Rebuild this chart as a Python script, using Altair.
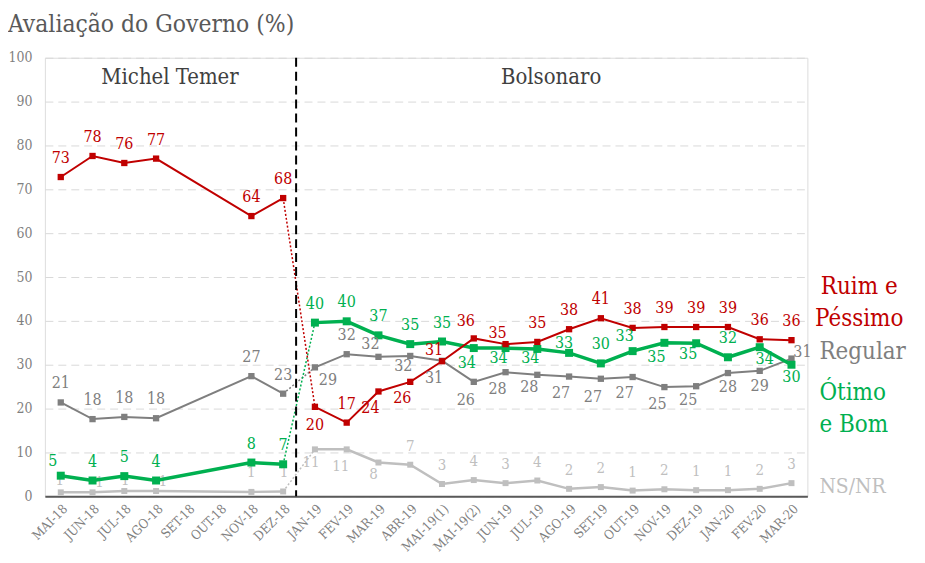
import altair as alt
import pandas as pd

cats = ["MAI-18", "JUN-18", "JUL-18", "AGO-18", "SET-18", "OUT-18", "NOV-18", "DEZ-18",
        "JAN-19", "FEV-19", "MAR-19", "ABR-19", "MAI-19(1)", "MAI-19(2)", "JUN-19", "JUL-19",
        "AGO-19", "SET-19", "OUT-19", "NOV-19", "DEZ-19", "JAN-20", "FEV-20", "MAR-20"]

ruim = [72.8, 77.6, 76.0, 77.0, None, None, 63.9, 68.0,
        20.4, 16.8, 23.9, 26.1, 30.8, 36.0, 34.7, 35.2, 38.1, 40.6, 38.4, 38.6, 38.6, 38.6, 35.8, 35.6]
regular = [21.4, 17.6, 18.1, 17.8, None, None, 27.4, 23.4,
           29.4, 32.4, 31.8, 32.0, 30.9, 26.1, 28.3, 27.7, 27.3, 26.8, 27.2, 24.9, 25.1, 28.1, 28.6, 31.4]
otimo = [4.7, 3.6, 4.6, 3.6, None, None, 7.7, 7.3,
         39.6, 39.9, 36.7, 34.7, 35.3, 33.8, 33.8, 33.6, 32.7, 30.3, 33.1, 35.0, 34.9, 31.7, 34.0, 30.0]
nsnr = [0.9, 0.9, 1.2, 1.2, None, None, 1.0, 1.1,
        10.7, 10.7, 7.7, 7.2, 2.8, 3.7, 3.0, 3.6, 1.7, 2.1, 1.3, 1.6, 1.4, 1.4, 1.7, 3.0]

title_text = "Avaliação do Governo (%)"
gov_names = ["Michel Temer", "Bolsonaro"]

FONT = "DejaVu Serif Condensed, DejaVu Serif"
RED, GRAY, GREEN, LIGHT = "#C00000", "#7F7F7F", "#00B050", "#BFBFBF"

# label placement exceptions (dx, dy) in pixels; default is above the point
DEFAULT_OFF = (0, -19)
off_ruim = {"JAN-19": (0, 18), "MAR-19": (-8, 17), "ABR-19": (-8, 16), "MAI-19(1)": (-8, -11),
            "MAI-19(2)": (-8, -17), "JUN-19": (-8, -11)}
off_regular = {"JAN-19": (13, 13), "MAR-19": (-8, -13), "ABR-19": (-7, 10), "MAI-19(1)": (-8, 17),
               "MAI-19(2)": (-8, 18), "JUN-19": (-8, 17), "JUL-19": (-8, 12), "AGO-19": (-8, 17),
               "SET-19": (-8, 18), "OUT-19": (-8, 16), "NOV-19": (-7, 17), "DEZ-19": (-8, 14),
               "JAN-20": (0, 14), "FEV-20": (0, 15), "MAR-20": (11, -7)}
off_otimo = {"MAI-18": (-8, -15), "MAI-19(2)": (-7, 15), "JUN-19": (-7, 10), "JUL-19": (-7, 9),
             "AGO-19": (-5, -10), "OUT-19": (-8, -15), "NOV-19": (-8, 14), "DEZ-19": (-8, 11),
             "FEV-20": (5, 12), "MAR-20": (0, 12)}
off_nsnr = {"MAI-18": (-1, -12), "JUN-18": (7, -10), "JUL-18": (1, -11), "AGO-18": (7, -10),
            "NOV-18": (0, -20), "DEZ-18": (1, -20),
            "JAN-19": (-4, 13), "FEV-19": (-6, 17), "MAR-19": (-5, 12)}


def frame(values):
    rows = []
    for i, (c, v) in enumerate(zip(cats, values)):
        if v is None:
            continue
        rows.append({"cat": c, "v": v, "period": "Temer" if i < 8 else "Bolsonaro"})
    return pd.DataFrame(rows)


xenc = alt.X("cat:N", title=None,
             scale=alt.Scale(type="point", domain=cats, padding=0.5),
             axis=alt.Axis(labelAngle=315, labelFontSize=13, labelColor=GRAY, ticks=False,
                           domainColor="#595959", domainWidth=2, labelPadding=6, grid=False,
                           labelFont=FONT))
yenc = alt.Y("v:Q", title=None, scale=alt.Scale(domain=[0, 100]),
             axis=alt.Axis(values=list(range(0, 101, 10)), grid=True, gridDash=[8, 5],
                           gridColor="#D9D9D9", gridWidth=1, domain=False, ticks=False,
                           labelPadding=13, labelFontSize=14, labelColor=GRAY, labelFont=FONT))


def series_layers(values, color, width, size):
    df = frame(values)
    base = alt.Chart(df).encode(x=xenc, y=yenc)
    line = base.mark_line(color=color, strokeWidth=width).encode(detail="period:N")
    link = alt.Chart(df[df["cat"].isin(["DEZ-18", "JAN-19"])]).mark_line(
        color=color, strokeWidth=1.5, strokeDash=[2, 2]).encode(x=xenc, y=yenc)
    pts = base.mark_square(color=color, size=size, opacity=1)
    return [link, line, pts], df


def label_layers(df, offsets, color, fontsize):
    out = []
    df = df.copy()
    df["off"] = [offsets.get(c, DEFAULT_OFF) for c in df["cat"]]
    for off, sub in df.groupby("off"):
        out.append(alt.Chart(sub.drop(columns="off")).mark_text(
            color=color, fontSize=fontsize, font=FONT, dx=off[0], dy=off[1],
            baseline="middle", align="center").encode(
            x=xenc, y=yenc, text=alt.Text("v:Q", format=".0f")))
    return out


ns_l, ns_df = series_layers(nsnr, LIGHT, 2.5, 36)
rg_l, rg_df = series_layers(regular, GRAY, 2, 40)
ot_l, ot_df = series_layers(otimo, GREEN, 3.5, 64)
ru_l, ru_df = series_layers(ruim, RED, 2, 40)

layers = []
layers += ns_l
layers += label_layers(ns_df, off_nsnr, LIGHT, 15)
layers += rg_l + ot_l + ru_l
layers += label_layers(rg_df, off_regular, GRAY, 16)
layers += label_layers(ot_df, off_otimo, GREEN, 16)
layers += label_layers(ru_df, off_ruim, RED, 16)

# divider between governments
div = alt.Chart(pd.DataFrame({"cat": ["DEZ-18"]})).mark_rule(
    color="#000000", strokeWidth=2, strokeDash=[9, 5], xOffset=13).encode(
    x=xenc, y=alt.datum(100), y2=alt.datum(0))
layers.append(div)

# government names
layers.append(alt.Chart(pd.DataFrame({"cat": ["AGO-18"], "t": [gov_names[0]]})).mark_text(
    fontSize=22, font=FONT, color="#404040", dx=14, baseline="alphabetic").encode(
    x=xenc, y=alt.datum(94), text="t:N"))
layers.append(alt.Chart(pd.DataFrame({"cat": ["AGO-19"], "t": [gov_names[1]]})).mark_text(
    fontSize=22, font=FONT, color="#404040", dx=-18, baseline="alphabetic").encode(
    x=xenc, y=alt.datum(94), text="t:N"))

# series names on the right
legend = [("Ruim e", 46.1, RED, "center", 68, 24),
          ("Péssimo", 38.8, RED, "center", 68, 24),
          ("Regular", 31.3, GRAY, "left", 28, 24),
          ("Ótimo", 22.0, GREEN, "left", 28, 24),
          ("e Bom", 14.7, GREEN, "left", 28, 24),
          ("NS/NR", 0.8, LIGHT, "left", 28, 21)]
for txt, yv, col, al, dx, fs in legend:
    layers.append(alt.Chart(pd.DataFrame({"cat": ["MAR-20"], "t": [txt]})).mark_text(
        fontSize=fs, font=FONT, color=col, align=al, dx=dx, baseline="alphabetic").encode(
        x=xenc, y=alt.datum(yv), text="t:N"))

# chart title, placed at the top-left corner of the page
layers.append(alt.Chart(pd.DataFrame({"t": [title_text]})).mark_text(
    fontSize=24.5, font=FONT, color="#595959", align="left", baseline="alphabetic").encode(
    x=alt.value(-37), y=alt.value(-26), text="t:N"))

chart = alt.layer(*layers).properties(
    width=765, height=440,
    autosize="none",
    padding={"left": 37, "top": 49, "right": 110, "bottom": 60},
).configure_view(stroke=None).configure(font=FONT)

chart.save("out.html", embed_options={"renderer": "svg", "actions": False})
